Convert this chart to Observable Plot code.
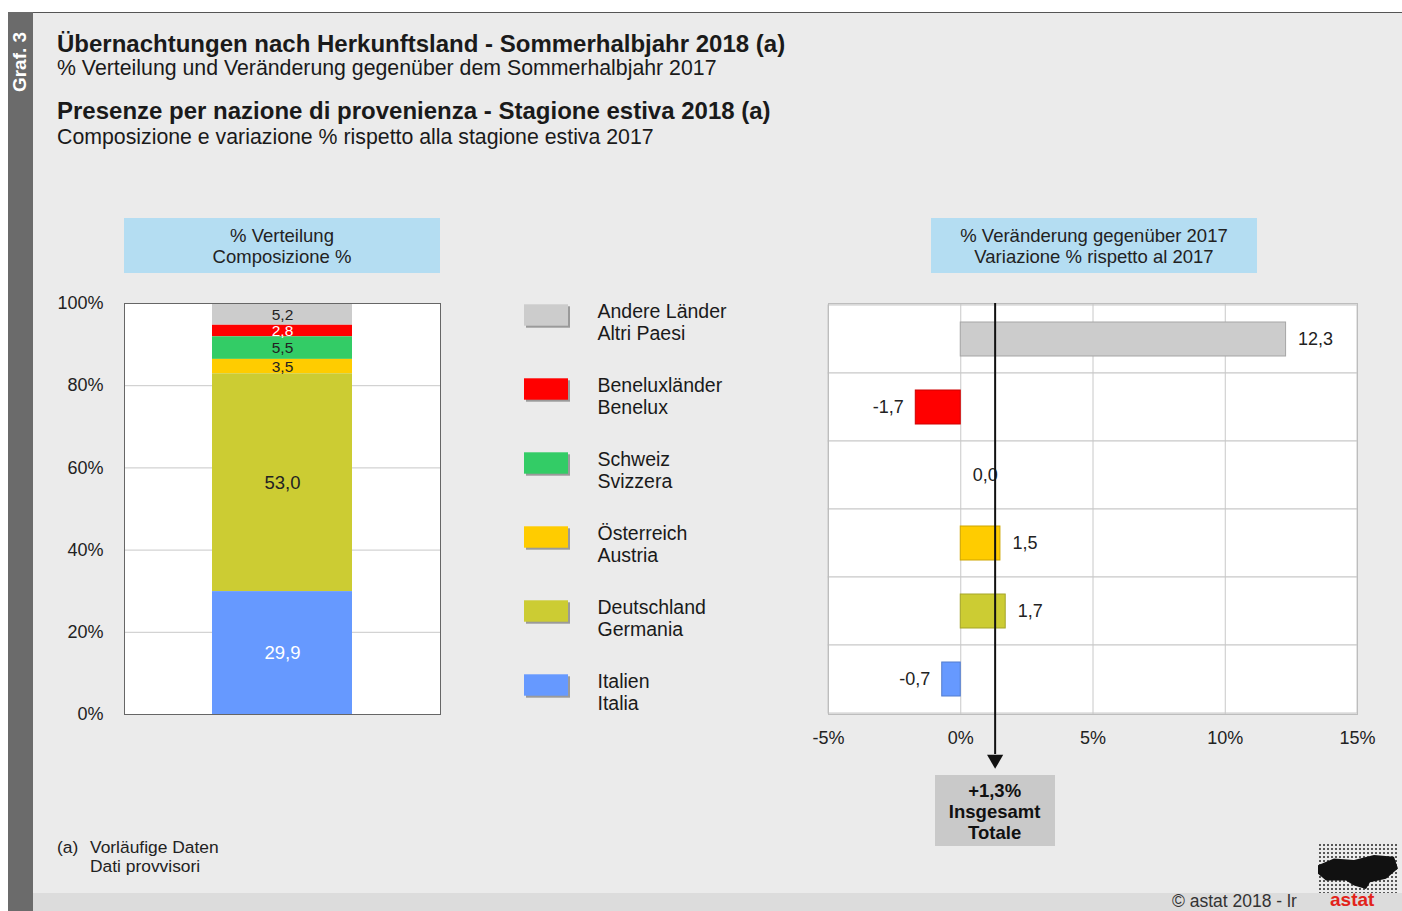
<!DOCTYPE html>
<html><head><meta charset="utf-8">
<script src="https://cdn.jsdelivr.net/npm/d3@7"></script>
<script src="https://cdn.jsdelivr.net/npm/@observablehq/plot@0.6"></script>
<style>
body{margin:0;background:#fff;font-family:"Liberation Sans",Arial,sans-serif;color:#1a1a1a;}
#page{position:relative;width:1402px;height:911px;overflow:hidden;background:#fff;}
#panel{position:absolute;left:8px;top:12px;width:1394px;height:899px;background:#ebebeb;border-top:1px solid #555;box-sizing:border-box;}
#strip{position:absolute;left:8px;top:12px;width:25px;height:899px;background:#6b6b6b;}
#graf{position:absolute;left:20px;top:62px;transform:translate(-50%,-50%) rotate(-90deg);color:#fff;font-weight:bold;font-size:19px;white-space:nowrap;}
#bottom{position:absolute;left:33px;top:893px;width:1369px;height:18px;background:#dcdcdc;}
.abs{position:absolute;white-space:nowrap;}
.t1{font-weight:bold;font-size:24px;line-height:28px;}
.t2{font-size:21.3px;line-height:24px;}
.hdr{position:absolute;background:#b4ddf2;text-align:center;font-size:18.5px;line-height:21px;color:#222;box-sizing:border-box;padding-top:7px;}
.plot{position:absolute;}
#totalbox{position:absolute;background:#c9c9c9;text-align:center;font-weight:bold;font-size:18.5px;line-height:21px;color:#111;box-sizing:border-box;padding-top:5px;}
.fn{font-size:17.4px;line-height:19px;color:#222;}
#logo{position:absolute;left:1318px;top:843px;width:80px;height:50px;background-image:radial-gradient(circle,#333 1.1px,transparent 1.4px);background-size:4px 4px;opacity:.8;}
#blob{position:absolute;left:1318px;top:855px;width:80px;height:34px;background:#111;clip-path:polygon(0% 30%,20% 10%,45% 15%,70% 0%,95% 5%,100% 40%,85% 70%,65% 80%,60% 100%,45% 90%,35% 75%,10% 75%,0% 55%);}
</style></head>
<body>
<div id="page">
  <div id="panel"></div>
  <div id="strip"></div>
  <div id="graf">Graf. 3</div>
  <div id="bottom"></div>

  <div class="abs t1" style="left:57px;top:30px;">Übernachtungen nach Herkunftsland - Sommerhalbjahr 2018 (a)</div>
  <div class="abs t2" style="left:57px;top:56px;">% Verteilung und Veränderung gegenüber dem Sommerhalbjahr 2017</div>
  <div class="abs t1" style="left:57px;top:97px;">Presenze per nazione di provenienza - Stagione estiva 2018 (a)</div>
  <div class="abs t2" style="left:57px;top:125px;">Composizione e variazione % rispetto alla stagione estiva 2017</div>

  <div class="hdr" style="left:124px;top:218px;width:316px;height:55px;">% Verteilung<br>Composizione %</div>
  <div class="hdr" style="left:931px;top:218px;width:326px;height:55px;">% Veränderung gegenüber 2017<br>Variazione % rispetto al 2017</div>

  <div id="leftChart" class="plot" style="left:40px;top:290px;"></div>
  <div id="legend" class="plot" style="left:510px;top:270px;"></div>
  <div id="rightChart" class="plot" style="left:788px;top:290px;"></div>
  <div id="totalbox"></div>

  <div class="abs fn" style="left:57px;top:838px;">(a)</div>
  <div class="abs fn" style="left:90px;top:838px;">Vorläufige Daten<br>Dati provvisori</div>

  <div id="logo"></div>
  <div id="blob"></div>
  <div class="abs" style="left:1172px;top:893px;font-size:17.5px;line-height:17px;color:#333;">© astat 2018 - lr</div>
  <div class="abs" style="left:1330px;top:890px;font-size:19px;line-height:19px;font-weight:bold;color:#e2231a;">astat</div>
</div>
<script>
// ---- data ----
const namesDe = ["Andere Länder", "Beneluxländer", "Schweiz", "Österreich", "Deutschland", "Italien"];
const namesIt = ["Altri Paesi", "Benelux", "Svizzera", "Austria", "Germania", "Italia"];
const shares  = [5.2, 2.8, 5.5, 3.5, 53.0, 29.9];      // % Verteilung / Composizione
const changes = [12.3, -1.7, 0.0, 1.5, 1.7, -0.7];     // % Veränderung / Variazione
const totalChange = 1.3;
const totalLabel = ["+1,3%", "Insgesamt", "Totale"];
const shareTicks = [0, 20, 40, 60, 80, 100];
const changeTicks = [-5, 0, 5, 10, 15];
const barCategory = ["2018"];

// ---- styles ----
const colors = ["#cccccc", "#ff0000", "#33cc66", "#ffcc00", "#cccc33", "#6699ff"];
const labelColors = ["#222", "#fff", "#222", "#222", "#222", "#fff"];
const font = "Liberation Sans, Arial, sans-serif";

const fmt = v => v.toFixed(1).replace(".", ",");
const rows = namesDe.map((n, i) => ({
  name: n, it: namesIt[i], share: shares[i], change: changes[i],
  color: colors[i], labelColor: labelColors[i],
  stroke: d3.color(colors[i]).darker(0.6).formatHex()
}));

// ---- left: stacked composition bar ----
const left = Plot.plot({
  width: 404, height: 454,
  marginLeft: 84, marginRight: 4, marginTop: 13, marginBottom: 30,
  style: {background: "transparent", fontFamily: font, fontSize: "18px", color: "#222"},
  x: {domain: barCategory, padding: 0, axis: null},
  y: {domain: [0, 100], label: null},
  color: {type: "identity"},
  marks: [
    Plot.frame({fill: "white"}),
    Plot.gridY(shareTicks, {stroke: "#c8c8c8", strokeOpacity: 1}),
    Plot.barY(rows, Plot.stackY({x: () => barCategory[0], y: "share", fill: "color", reverse: true, insetLeft: 88, insetRight: 88})),
    Plot.text(rows, Plot.stackY({x: () => barCategory[0], y: "share", reverse: true, text: d => fmt(d.share), fill: "labelColor", fontSize: d => d.share < 10 ? 15.5 : 18.5})),
    Plot.frame({stroke: "#666"}),
    Plot.axisY(shareTicks, {tickFormat: d => d + "%", tickSize: 0, tickPadding: 21, fontSize: 18, label: null})
  ]
});
document.getElementById("leftChart").append(left);

// ---- legend ----
const legend = Plot.plot({
  width: 260, height: 454,
  marginLeft: 0, marginRight: 0, marginTop: 6, marginBottom: 0,
  style: {background: "transparent", fontFamily: font, fontSize: "19.5px", color: "#1a1a1a"},
  x: {domain: [0, 1], range: [14, 58], axis: null},
  y: {domain: namesDe, padding: 0, axis: null},
  color: {type: "identity"},
  marks: [
    Plot.barX(rows, {x1: 0, x2: 1, y: "name", fill: "#9a9a9a", dx: 2, dy: 2, insetTop: 26.3, insetBottom: 26.3}),
    Plot.barX(rows, {x1: 0, x2: 1, y: "name", fill: "color", insetTop: 26.3, insetBottom: 26.3}),
    Plot.text(rows, {x: 1, y: "name", text: d => d.name + "\n" + d.it, textAnchor: "start", lineAnchor: "top", dx: 29, dy: -13, fontSize: 19.5, lineHeight: 1.13})
  ]
});
document.getElementById("legend").append(legend);

// ---- right: change bars ----
const right = Plot.plot({
  width: 614, height: 564,
  marginLeft: 40, marginRight: 45, marginTop: 13, marginBottom: 140,
  style: {background: "transparent", fontFamily: font, fontSize: "18px", color: "#222"},
  x: {domain: [changeTicks[0], changeTicks[changeTicks.length - 1]], label: null},
  y: {domain: namesDe, padding: 0, axis: null},
  color: {type: "identity"},
  marks: [
    Plot.cell(namesDe, {y: d => d, fill: "white", stroke: "#c8c8c8"}),
    Plot.gridX(changeTicks, {stroke: "#c8c8c8", strokeOpacity: 1}),
    Plot.barX(rows, {x: "change", y: "name", fill: "color", stroke: "stroke", strokeWidth: 1, insetTop: 17, insetBottom: 17}),
    Plot.text(rows.filter(d => d.change >= 0), {x: "change", y: "name", text: d => fmt(d.change), textAnchor: "start", dx: 12, fontSize: 18}),
    Plot.text(rows.filter(d => d.change < 0), {x: "change", y: "name", text: d => fmt(d.change), textAnchor: "end", dx: -12, fontSize: 18}),
    Plot.frame({stroke: "#bdbdbd"}),
    Plot.ruleX([totalChange], {x: d => d, stroke: "#111", strokeWidth: 2, insetBottom: -40}),
    Plot.dot([totalChange], {x: d => d, frameAnchor: "bottom", dy: 45, symbol: "triangle", r: 6, rotate: 180, fill: "#111", stroke: "none"}),
    Plot.axisX(changeTicks, {tickFormat: d => d + "%", tickSize: 0, tickPadding: 17, fontSize: 18, label: null})
  ]
});
document.getElementById("rightChart").append(right);

// total box under the arrow, positioned with the x scale
const cx = 788 + right.scale("x").apply(totalChange);
const tb = document.getElementById("totalbox");
tb.style.left = (cx - 60) + "px";
tb.style.top = "775px";
tb.style.width = "120px";
tb.style.height = "71px";
tb.innerHTML = totalLabel.join("<br>");
</script>
</body></html>
